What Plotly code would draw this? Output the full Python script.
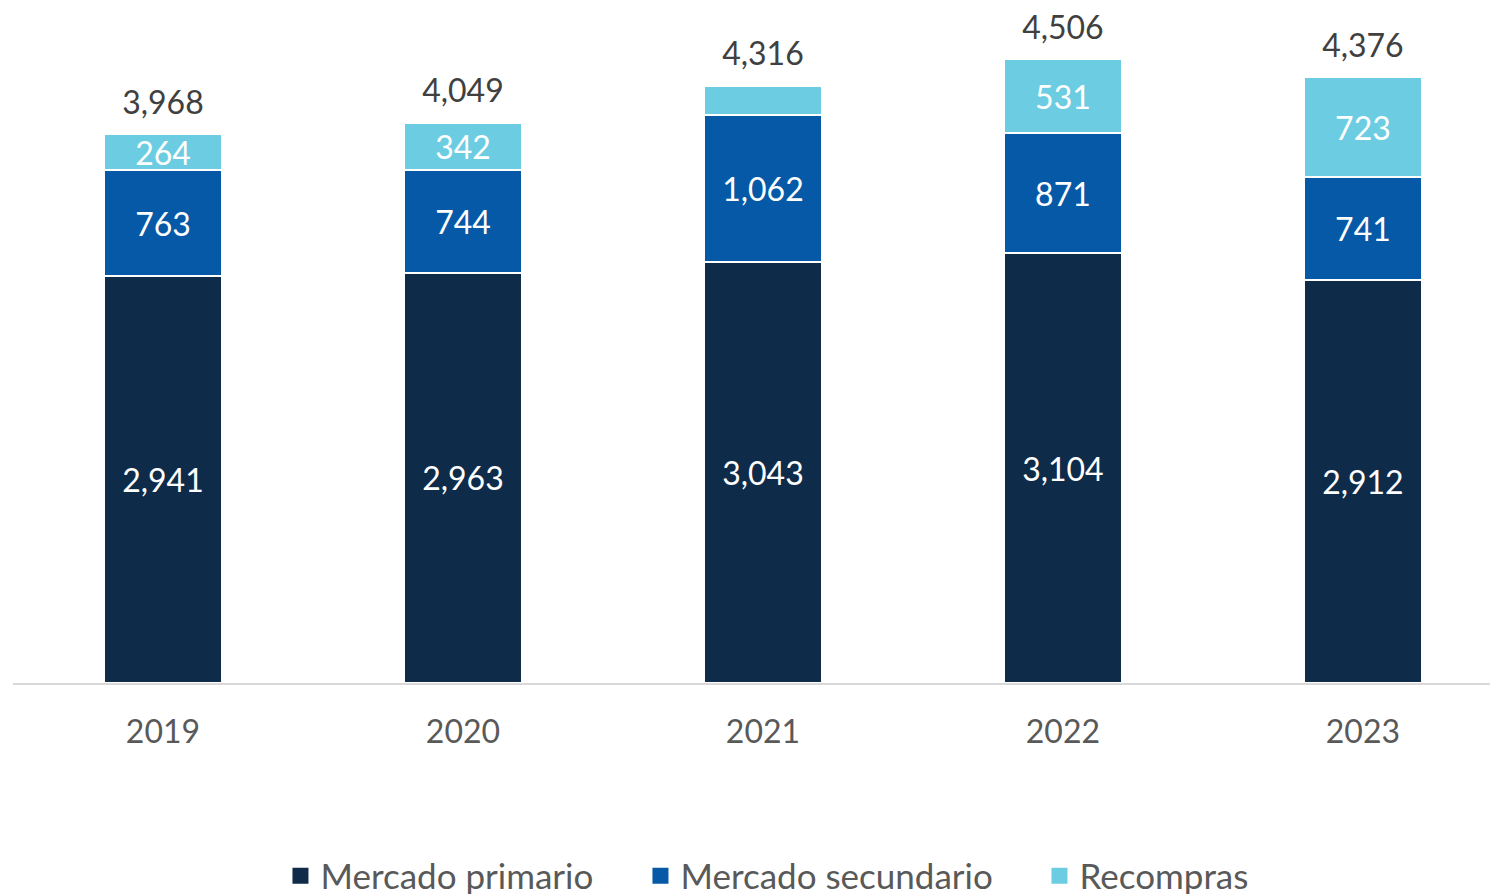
import plotly.graph_objects as go

years = ["2019", "2020", "2021", "2022", "2023"]
primario = [2941, 2963, 3043, 3104, 2912]
secundario = [763, 744, 1062, 871, 741]
recompras = [264, 342, 211, 531, 723]
totales = [3968, 4049, 4316, 4506, 4376]
recompras_shown = [True, True, False, True, True]

FONT = "Lato, Open Sans, sans-serif"
GREY = "#595959"

def labels(vals, shown=None):
    out = []
    for i, v in enumerate(vals):
        if shown is not None and not shown[i]:
            out.append("")
        else:
            out.append(f"{v:,}")
    return out

fig = go.Figure()
series = [
    ("Mercado primario", primario, "#0f2b4a", None, 315),
    ("Mercado secundario", secundario, "#0559a6", None, 354),
    ("Recompras", recompras, "#6ccde2", recompras_shown, None),
]
for name, vals, color, shown, _ in series:
    fig.add_trace(go.Bar(
        x=years, y=vals, name=name, showlegend=False,
        marker=dict(color=color, line=dict(color="white", width=2)),
        text=labels(vals, shown), textposition="inside",
        insidetextanchor="middle", constraintext="none",
        textfont=dict(color="white", size=32, family=FONT),
        hoverinfo="skip",
        width=0.395,
    ))

# totals above the stacks (invisible marker pushes text up)
fig.add_trace(go.Scatter(
    x=years, y=totales, mode="markers+text", text=[f"{t:,}" for t in totales],
    marker=dict(size=18, color="rgba(0,0,0,0)"),
    textposition="top center", showlegend=False, cliponaxis=False,
    textfont=dict(size=32, color="#404040", family=FONT), hoverinfo="skip",
))

# legend entries (square markers)
for name, _, color, _, lw in series:
    kw = {}
    if lw:
        kw["legendwidth"] = lw
    fig.add_trace(go.Scatter(
        x=[None], y=[None], mode="markers", name=name,
        marker=dict(symbol="square", size=16, color=color),
        showlegend=True, **kw,
    ))

fig.update_layout(
    barmode="stack",
    width=1498, height=894,
    margin=dict(l=5, r=0, t=12, b=219, autoexpand=False),
    paper_bgcolor="white", plot_bgcolor="white",
    font=dict(family=FONT, color=GREY, size=32),
    legend=dict(orientation="h", x=0.505, xanchor="center", y=-0.291, yanchor="middle",
                font=dict(size=35, color=GREY, family=FONT),
                itemsizing="trace", traceorder="normal", itemwidth=30,
                tracegroupgap=0),
    showlegend=True,
)
fig.update_xaxes(range=[-0.5, 4.477], showline=True, linecolor="#d9d9d9", linewidth=2,
                 ticks="", tickfont=dict(size=32, color=GREY, family=FONT),
                 ticklabelstandoff=20, showgrid=False, automargin=False)
fig.update_yaxes(range=[0, 4790], visible=False, showgrid=False, zeroline=False,
                 automargin=False)

fig.write_html("out.html")
